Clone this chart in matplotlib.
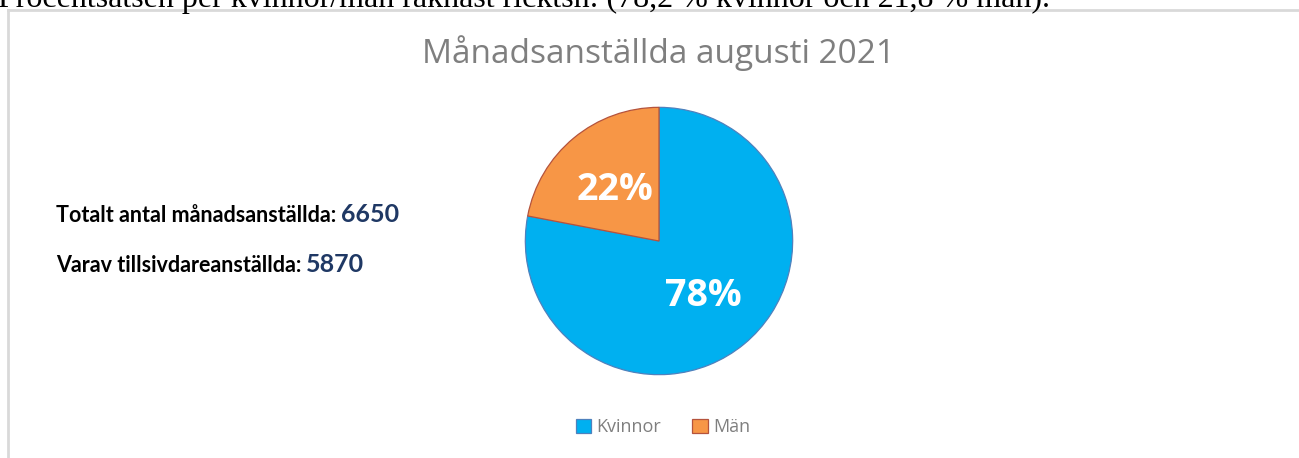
import matplotlib.pyplot as plt
from matplotlib.lines import Line2D
from matplotlib.patches import Patch

# Data
kategorier = ["Kvinnor", "Män"]
andelar = [78, 22]
farger = ["#00B0F0", "#F79646"]
kantfarger = ["#4F81BD", "#B5533C"]
etiketter = ["78%", "22%"]

titel = "Månadsanställda augusti 2021"
rader = [("Totalt antal månadsanställda:", "6650"),
         ("Varav tillsivdareanställda:", "5870")]
brodtext = "Procentsatsen per kvinnor/män räknast ricktsn: (78,2 % kvinnor och 21,8 % män)."

W, H = 1299, 458
fig = plt.figure(figsize=(W / 100, H / 100), dpi=100)
fig.patch.set_facecolor("white")


def px(x, y):
    # pixel (fran ovre vanstra hornet) -> figurkoordinater
    return x / W, 1 - y / H


# Avklippt brodtext overst (syns bara delvis, som i originalet)
fig.text(*px(-2, 7), brodtext, fontsize=23, family="Liberation Serif",
         color="black", ha="left", va="baseline")

# Ram runt diagrammet
fig.add_artist(Line2D([8 / W, 8 / W], [0, 1 - 10 / H], color="#D9D9D9", lw=2))
fig.add_artist(Line2D([8 / W, 1], [1 - 10 / H, 1 - 10 / H], color="#D9D9D9", lw=2))

# Tårtdiagram
cx, cy, r = 659, 241, 135
ax = fig.add_axes([(cx - r) / W, (H - cy - r) / H, 2 * r / W, 2 * r / H])
wedges, _ = ax.pie(andelar, colors=farger, startangle=90, counterclock=False,
                   radius=1, wedgeprops=dict(linewidth=0.9))
for w, ec in zip(wedges, kantfarger):
    w.set_edgecolor(ec)
ax.set_xlim(-1.01, 1.01)
ax.set_ylim(-1.01, 1.01)
ax.set_aspect("equal")
ax.axis("off")

# Procentetiketter
ax.text(0.33, -0.41, etiketter[0], color="white", fontsize=27, fontweight="bold",
        family="Open Sans", ha="center", va="center")
ax.text(-0.33, 0.38, etiketter[1], color="white", fontsize=27, fontweight="bold",
        family="Open Sans", ha="center", va="center")

# Titel
fig.text(*px(659, 53), titel, fontsize=24, color="#7F7F7F", family="Open Sans",
         ha="center", va="center")

# Textrader till vänster
fig.canvas.draw()
renderer = fig.canvas.get_renderer()
for (txt, val), y in zip(rader, [222, 272]):
    t = fig.text(*px(56, y), txt, fontsize=15.5, fontweight="bold", color="black",
                 family="Lato", ha="left", va="baseline")
    bb = t.get_window_extent(renderer)
    fig.text((bb.x1 + 5) / W, 1 - y / H, val, fontsize=18, fontweight="bold",
             color="#1F3864", family="Lato", ha="left", va="baseline")

# Legend
handles = [Patch(facecolor=f, edgecolor=e, linewidth=0.9) for f, e in zip(farger, kantfarger)]
leg = fig.legend(handles, kategorier, loc="center", bbox_to_anchor=px(663, 427),
                 ncol=2, frameon=False, handlelength=0.85, handleheight=0.85,
                 handletextpad=0.3, columnspacing=1.7,
                 prop={"family": "Open Sans", "size": 13})
for t in leg.get_texts():
    t.set_color("#7F7F7F")

fig.savefig("out.png", dpi=100)
